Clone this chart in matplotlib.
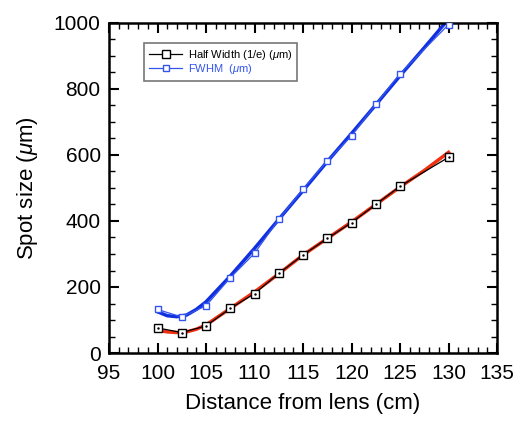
import matplotlib
matplotlib.use('Agg')
import matplotlib.pyplot as plt
from matplotlib.ticker import MultipleLocator

plt.rcParams['font.family'] = ['Liberation Sans', 'DejaVu Sans']
plt.rcParams['mathtext.fontset'] = 'custom'
plt.rcParams['mathtext.it'] = 'Liberation Sans:italic'
plt.rcParams['mathtext.rm'] = 'Liberation Sans'

# measured data
dist = [100, 102.5, 105, 107.5, 110, 112.5, 115, 117.5, 120, 122.5, 125, 130]
half_width = [76, 62, 82, 135, 180, 241, 297, 347, 395, 450, 505, 593]
fwhm = [132, 109, 143, 228, 302, 405, 496, 582, 658, 754, 846, 995]

# fitted curves
fit_x = [100, 101, 102, 103, 104, 105, 107.5, 110, 112.5, 115, 117.5, 120, 122.5, 125, 127.5, 130]
fit_half = [69, 64, 62, 64, 72, 85, 135, 185, 240, 297, 347, 397, 450, 503, 553, 608]
fit_fwhm = [125, 113, 110, 115, 132, 155, 233, 317, 405, 492, 580, 665, 752, 840, 925, 1012]

fig = plt.figure(figsize=(5.18, 4.23), dpi=100)
ax = fig.add_axes([109/518, 1-353/423, 388/518, 330/423])

ax.plot(fit_x, fit_half, color='#f03010', lw=2.5, zorder=2)
ax.plot(fit_x, fit_fwhm, color='#1030e0', lw=2.5, zorder=2)
ax.plot(dist, half_width, '-s', color='black', lw=0.9, ms=6, mfc='white', mec='black', mew=1,
        label=r'Half Width (1/e) ($\mu$m)', zorder=3)
ax.plot(dist, half_width, '.', color='black', ms=1.5, zorder=4)
ax.plot(dist, fwhm, '-s', color='#3355ee', lw=0.9, ms=4, mfc='white', mec='#3355ee', mew=1,
        label=r'FWHM  ($\mu$m)', zorder=3)

ax.set_xlim(95, 135)
ax.set_ylim(0, 1000)
ax.xaxis.set_major_locator(MultipleLocator(5))
ax.xaxis.set_minor_locator(MultipleLocator(1))
ax.yaxis.set_major_locator(MultipleLocator(200))
ax.yaxis.set_minor_locator(MultipleLocator(50))
ax.tick_params(which='both', direction='in', top=True, right=True, labelsize=15)
ax.tick_params(which='major', length=7, width=1.5)
ax.tick_params(axis='x', which='major', pad=8)
ax.tick_params(axis='y', which='major', pad=6)
ax.tick_params(which='minor', length=4, width=1)
for s in ax.spines.values():
    s.set_linewidth(1.8)

ax.set_xlabel('Distance from lens (cm)', fontsize=16, labelpad=7)
ax.set_ylabel(r'Spot size ($\mu$m)', fontsize=16, labelpad=10)

leg = ax.legend(loc='upper left', bbox_to_anchor=(0.09, 0.94), fontsize=8, frameon=True,
                fancybox=False, edgecolor='#555555', handlelength=3, borderpad=0.45,
                labelspacing=0.0, handletextpad=0.5, borderaxespad=0)
leg.get_frame().set_linewidth(1.2)
leg.get_texts()[1].set_color('#3355ee')

fig.savefig('out.png', dpi=100)
